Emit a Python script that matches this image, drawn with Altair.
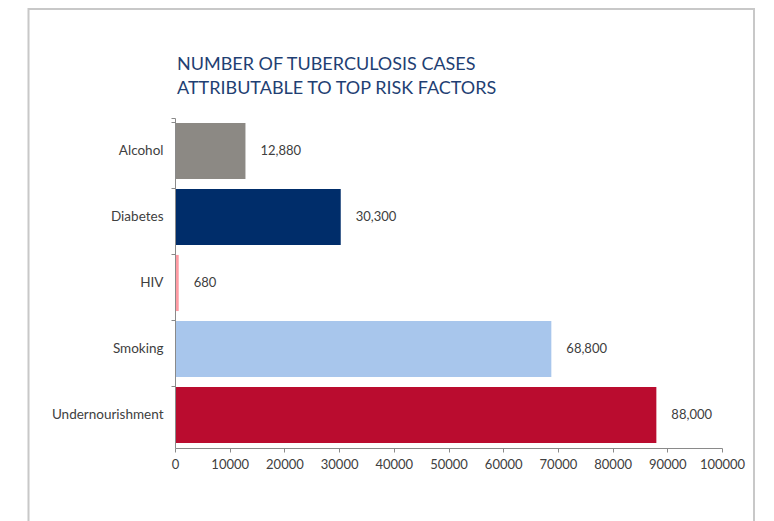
import altair as alt
import pandas as pd

factors = ["Alcohol", "Diabetes", "HIV", "Smoking", "Undernourishment"]
cases = [12880, 30300, 680, 68800, 88000]
colors = ["#8C8984", "#002D6A", "#FF9BA3", "#A8C6EC", "#BA0C2F"]
title_lines = ["NUMBER OF TUBERCULOSIS CASES", "ATTRIBUTABLE TO TOP RISK FACTORS"]
x_ticks = [0, 10000, 20000, 30000, 40000, 50000, 60000, 70000, 80000, 90000, 100000]

df = pd.DataFrame({"factor": factors, "cases": cases})

FONT = "Lato"
W, H = 547, 330

y_enc = alt.Y(
    "factor:N",
    sort=factors,
    scale=alt.Scale(paddingInner=0.15, paddingOuter=0.075),
    axis=alt.Axis(
        title=None,
        labelFont=FONT,
        labelFontSize=13.5,
        labelColor="#404040",
        labelPadding=8,
        domainColor="#8a8a8a",
        tickColor="#8a8a8a",
        tickSize=4,
        bandPosition=0,
        tickExtra=True,
        zindex=1,
    ),
)

x_enc = alt.X(
    "cases:Q",
    scale=alt.Scale(domain=[0, 100000], nice=False),
    axis=alt.Axis(
        title=None,
        values=x_ticks,
        format="d",
        labelFont=FONT,
        labelFontSize=13,
        labelColor="#404040",
        labelPadding=6,
        domainColor="#8a8a8a",
        tickColor="#8a8a8a",
        tickSize=4,
        grid=False,
        labelFlush=False,
    ),
)

bars = alt.Chart(df).mark_bar().encode(
    x=x_enc,
    y=y_enc,
    color=alt.Color("factor:N", scale=alt.Scale(domain=factors, range=colors), legend=None),
)

labels = alt.Chart(df).mark_text(
    align="left", baseline="middle", dx=15, font=FONT, fontSize=13, color="#404040"
).encode(
    x="cases:Q",
    y=alt.Y("factor:N", sort=factors),
    text=alt.Text("cases:Q", format=","),
)

title = alt.Chart(alt.Data(values=[{"t": title_lines}])).mark_text(
    align="left", baseline="alphabetic", font=FONT, fontSize=18, color="#1F3F73",
    lineHeight=24,
).encode(
    x=alt.value(2),
    y=alt.value(-48),
    text=alt.Text("t:N"),
)

frame = alt.Chart(alt.Data(values=[{"a": 1}])).mark_rect(
    fill=None, stroke="#c8c8c8", strokeWidth=2
).encode(
    x=alt.value(-146.5),
    x2=alt.value(579),
    y=alt.value(-109),
    y2=alt.value(520),
)

chart = alt.layer(frame, bars, labels, title).properties(
    width=W,
    height=H,
    background="white",
    autosize=alt.AutoSizeParams(type="none"),
    padding={"left": 167, "top": 110, "right": 44, "bottom": 73},
).configure_view(stroke=None, strokeWidth=0)

chart.save("out.html", embed_options={"renderer": "svg", "actions": False})
